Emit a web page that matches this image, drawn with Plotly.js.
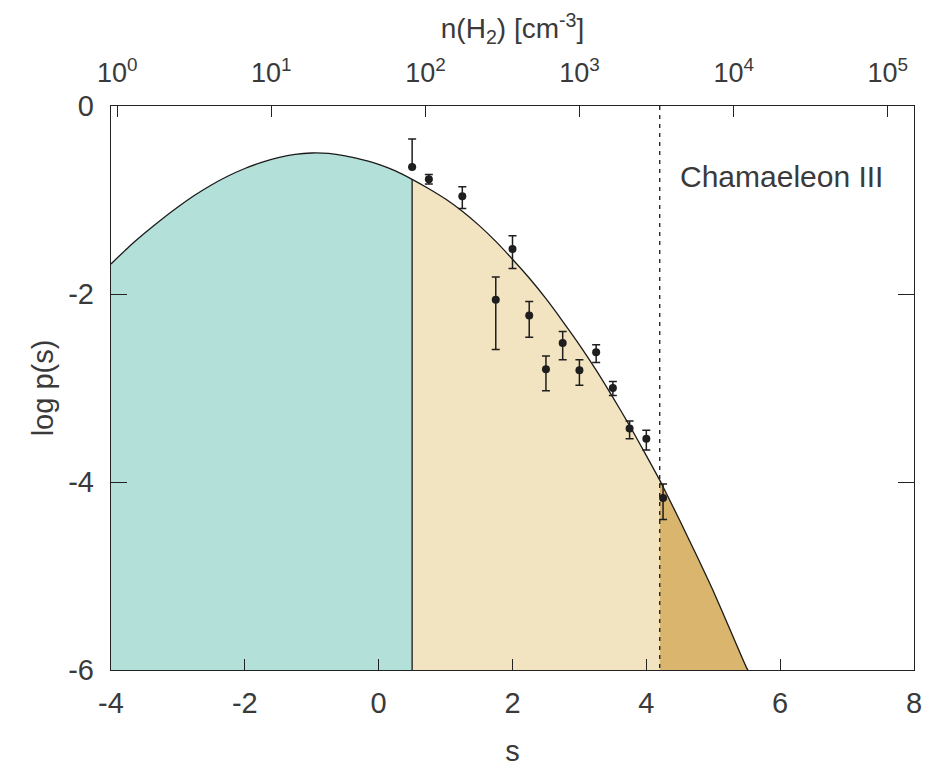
<!DOCTYPE html>
<html>
<head>
<meta charset="utf-8">
<script src="https://cdn.plot.ly/plotly-3.0.1.min.js"></script>
<style>html,body{margin:0;padding:0;background:#fff;}#chart{width:926px;height:768px;}</style>
</head>
<body>
<div id="chart"></div>
<script>
// Fitted log-normal model curve
const CURVE_S = [-4.00,-3.75,-3.50,-3.25,-3.00,-2.75,-2.50,-2.25,-2.00,-1.75,-1.50,-1.25,-1.00,-0.75,-0.50,-0.25,0.00,0.25,0.50,0.75,1.00,1.25,1.50,1.75,2.00,2.25,2.50,2.75,3.00,3.25,3.50,3.75,4.00,4.20,4.25,4.50,4.75,5.00,5.25,5.50,5.52];
const CURVE_LOGP = [-1.68,-1.51,-1.355,-1.21,-1.075,-0.95,-0.84,-0.745,-0.665,-0.60,-0.55,-0.515,-0.50,-0.505,-0.53,-0.57,-0.62,-0.69,-0.78,-0.88,-0.99,-1.12,-1.27,-1.44,-1.63,-1.83,-2.05,-2.29,-2.54,-2.81,-3.10,-3.40,-3.72,-3.98,-4.05,-4.41,-4.78,-5.16,-5.57,-5.98,-6.00];

// Observed points with asymmetric error bars
const OBS_S = [0.50,0.75,1.25,1.75,2.00,2.25,2.50,2.75,3.00,3.25,3.50,3.75,4.00,4.25];
const OBS_LOGP = [-0.65,-0.78,-0.96,-2.06,-1.52,-2.23,-2.80,-2.52,-2.81,-2.62,-3.00,-3.43,-3.54,-4.17];
const ERR_UP = [0.30,0.05,0.10,0.24,0.14,0.15,0.14,0.12,0.11,0.08,0.07,0.08,0.09,0.15];
const ERR_DOWN = [0.0,0.05,0.13,0.53,0.21,0.23,0.23,0.18,0.16,0.11,0.08,0.11,0.12,0.23];

// Region boundaries and axes
const S_SPLIT = 0.5;
const S_CRIT = 4.2;
const Y_MIN = -6, Y_MAX = 0;
const X_MIN = -4, X_MAX = 8;
const X_TICKS = [-4,-2,0,2,4,6,8];
const X_TICKTEXT = ['-4','-2','0','2','4','6','8'];
const Y_TICKS = [-6,-4,-2,0];
const Y_TICKTEXT = ['-6','-4','-2','0'];
const N_TICKVALS = [1,10,100,1000,10000,100000];
const N_TICKTEXT = ['10<sup>0</sup>','10<sup>1</sup>','10<sup>2</sup>','10<sup>3</sup>','10<sup>4</sup>','10<sup>5</sup>'];
const N_LOG_RANGE = [-0.04, 5.17];
const LABEL = 'Chamaeleon III';

const FONT = '"Liberation Sans", Arial, Helvetica, sans-serif';
const TXT = '#3a3a3a';

function segment(lo, hi, color) {
  const xs = [], ys = [];
  CURVE_S.forEach((s, i) => { if (s >= lo - 1e-9 && s <= hi + 1e-9) { xs.push(s); ys.push(CURVE_LOGP[i]); } });
  const first = xs[0], last = xs[xs.length - 1];
  xs.push(last, first); ys.push(Y_MIN, Y_MIN);
  return {x: xs, y: ys, type: 'scatter', mode: 'lines', fill: 'toself', fillcolor: color,
          line: {width: 0, color: color}, hoverinfo: 'skip', showlegend: false};
}

const splitY = CURVE_LOGP[CURVE_S.indexOf(S_SPLIT)];

const traces = [
  segment(X_MIN, S_SPLIT, '#b4e0da'),
  segment(S_SPLIT, S_CRIT, '#f3e4c1'),
  segment(S_CRIT, 99, '#d9b56e'),
  {x: CURVE_S, y: CURVE_LOGP, type: 'scatter', mode: 'lines', line: {color: '#1a1a1a', width: 1.3, shape: 'spline', smoothing: 0.6}, showlegend: false, hoverinfo: 'skip'},
  {x: [S_SPLIT, S_SPLIT], y: [splitY, Y_MIN], type: 'scatter', mode: 'lines', line: {color: '#1a1a1a', width: 1.3}, showlegend: false, hoverinfo: 'skip'},
  {x: [S_CRIT, S_CRIT], y: [Y_MAX, Y_MIN], type: 'scatter', mode: 'lines', line: {color: '#1a1a1a', width: 1.3, dash: '4px,5px'}, showlegend: false, hoverinfo: 'skip'},
  {x: OBS_S, y: OBS_LOGP, type: 'scatter', mode: 'markers',
   marker: {color: '#1e1e1e', size: 8},
   error_y: {type: 'data', symmetric: false, array: ERR_UP, arrayminus: ERR_DOWN, color: '#1e1e1e', thickness: 1.5, width: 4},
   showlegend: false},
  {x: [N_TICKVALS[0], N_TICKVALS[N_TICKVALS.length-1]], y: [Y_MIN - 10, Y_MIN - 10], xaxis: 'x2', type: 'scatter', mode: 'markers', marker: {opacity: 0}, showlegend: false, hoverinfo: 'skip'}
];

const layout = {
  width: 926, height: 768,
  margin: {l: 111, r: 12, t: 106, b: 98},
  paper_bgcolor: '#ffffff', plot_bgcolor: '#ffffff',
  font: {family: FONT, color: TXT, size: 29},
  showlegend: false,
  xaxis: {
    range: [X_MIN, X_MAX], tickvals: X_TICKS, ticktext: X_TICKTEXT, ticks: 'inside', ticklen: 11, tickwidth: 1, tickcolor: '#222',
    showline: true, linecolor: '#222', linewidth: 1.2, mirror: false, showgrid: false, zeroline: false,
    tickfont: {size: 29, color: TXT}, ticklabelstandoff: 7,
    title: {text: 's', font: {size: 29, color: TXT}, standoff: 22}
  },
  xaxis2: {
    type: 'log', range: N_LOG_RANGE, overlaying: 'x', side: 'top', anchor: 'y',
    tickvals: N_TICKVALS, ticktext: N_TICKTEXT, ticks: 'inside', ticklen: 11, tickwidth: 1, tickcolor: '#222',
    showline: true, linecolor: '#222', linewidth: 1.2, showgrid: false, zeroline: false,
    tickfont: {size: 27, color: TXT}, ticklabelstandoff: 12,
    title: {text: 'n(H<sub>2</sub>) [cm<sup>-3</sup>]', font: {size: 28, color: TXT}, standoff: 6}
  },
  yaxis: {
    range: [Y_MIN, Y_MAX], tickvals: Y_TICKS, ticktext: Y_TICKTEXT, ticks: 'inside', ticklen: 16, tickwidth: 1, tickcolor: '#222',
    showline: true, linecolor: '#222', linewidth: 1.2, mirror: 'ticks', showgrid: false, zeroline: false,
    tickfont: {size: 29, color: TXT}, ticklabelstandoff: 10,
    title: {text: 'log p(s)', font: {size: 29, color: TXT}, standoff: 6}
  },
  annotations: [{
    x: 0.835, y: 0.875, xref: 'paper', yref: 'paper', text: LABEL, showarrow: false,
    font: {size: 30, color: TXT, family: FONT}, xanchor: 'center', yanchor: 'middle'
  }]
};

Plotly.newPlot('chart', traces, layout, {displayModeBar: false, staticPlot: true});
</script>
</body>
</html>
